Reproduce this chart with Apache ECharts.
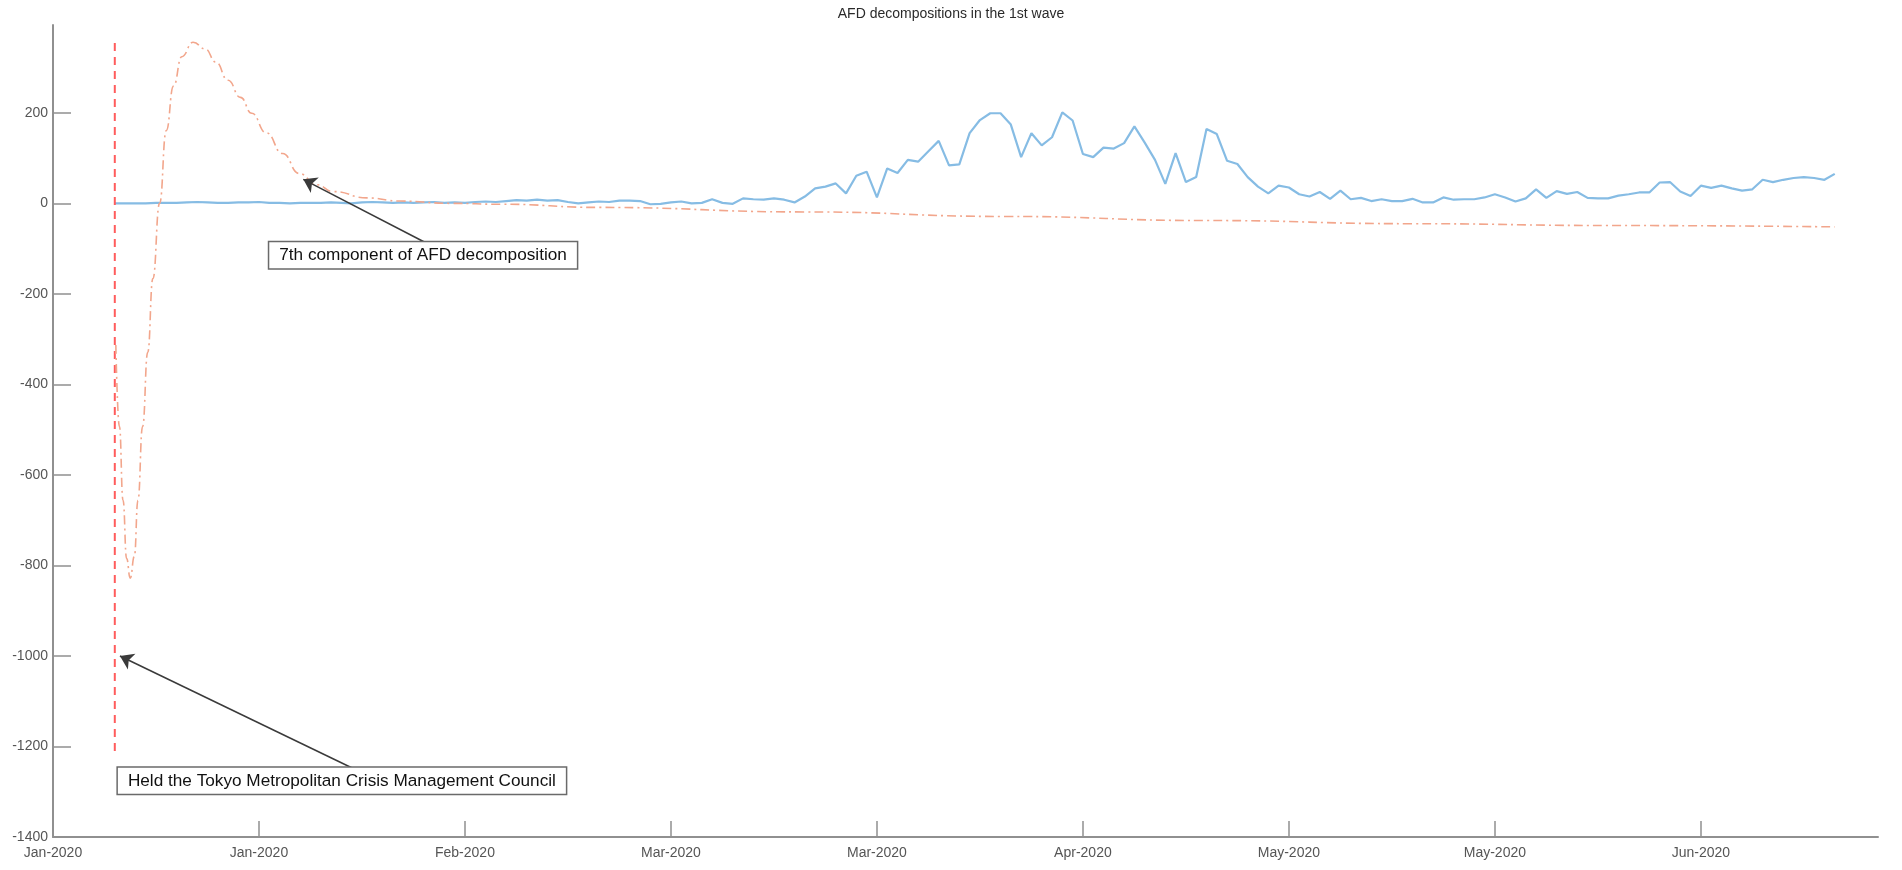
<!DOCTYPE html>
<html><head><meta charset="utf-8">
<script src="https://cdn.jsdelivr.net/npm/echarts@6/dist/echarts.min.js"></script>
<style>html,body{margin:0;padding:0;background:#fff}#c{width:1902px;height:870px}</style>
</head><body><div id="c"></div>
<script>
// ---------- data ----------
const titleText = 'AFD decompositions in the 1st wave';
const xTickDays = [0, 20, 40, 60, 80, 100, 120, 140, 160];
const xTickLabels = ['Jan-2020','Jan-2020','Feb-2020','Mar-2020','Mar-2020','Apr-2020','May-2020','May-2020','Jun-2020'];
const yTicks = [-1400, -1200, -1000, -800, -600, -400, -200, 0, 200];

// daily series (blue), first value on blueStartDay
const blueStartDay = 6;
const blueValues = [
  0, 0, 0, 0, 1, 1, 1, 2, 3, 2,          // d6-15
  1, 1, 2, 2, 3, 1, 1, 0, 1, 1,          // d16-25
  1, 2, 1, 0, 2, 3, 2, 1, 2, 1,          // d26-35
  2, 3, 1, 2, 1, 3, 4, 3, 5, 7,          // d36-45
  6, 8, 6, 7, 3, 0, 2, 4, 3, 6,          // d46-55
  6, 5, -2, -1, 2, 4, 0, 1, 9, 1,        // d56-65
  -1, 11, 9, 8, 11, 8, 2, 15, 33, 37,    // d66-75
  44, 22, 61, 70, 13, 77, 67, 96, 92, 115, // d76-85
  138, 84, 86, 155, 184, 199, 199, 174, 102, 155, // d86-95
  128, 146, 201, 183, 109, 102, 123, 121, 133, 170, // d96-105
  134, 96, 43, 111, 47, 58, 164, 153, 94, 87,  // d106-115
  58, 37, 22, 39, 35, 20, 15, 25, 10, 28,  // d116-125
  9, 12, 5, 9, 5, 5, 10, 2, 2, 13,        // d126-135
  8, 9, 9, 13, 20, 13, 4, 11, 31, 12,     // d136-145
  27, 21, 25, 12, 11, 11, 17, 20, 24, 24, // d146-155
  46, 47, 26, 16, 39, 34, 39, 33, 28, 31, // d156-165
  52, 47, 52, 56, 58, 56, 52, 65         // d166-173
];

// 7th AFD component (orange), read at these days
const orangeDays   = [6.1, 6.45, 6.8, 7.15, 7.5, 7.9, 8.25, 8.7, 9.2, 9.7, 10.35, 11.0, 11.7, 12.5, 13.6, 14.8, 15.8, 17.0, 18.2, 19.3, 20.7, 22.3, 23.9, 25.6, 27.2, 30.5, 33.7, 38.6, 43.5, 53, 73, 92.5, 112, 132, 151, 173];
const orangeValues = [-313, -493, -656, -785, -828, -780, -656, -493, -329, -166, 0, 161, 259, 324, 356, 341, 312, 272, 234, 199, 156, 110, 66, 41, 26, 12, 5, 0, -2, -9, -19, -29, -38, -45, -49, -52];

// event marker (red dashed vertical line)
const councilDay = 6;
const councilRange = [-1210, 357];

// annotation texts
const note1Text = '7th component of AFD decomposition';
const note2Text = 'Held the Tokyo Metropolitan Crisis Management Council';

// ---------- layout / annotation placement (data coordinates) ----------
const note1 = { box: [21.0, -86], tail: [36.1, -86], tip: [24.3, 53] };
const note2 = { box: [6.3, -1247], tail: [29.0, -1247], tip: [6.5, -1000] };

const FONT = 'Liberation Sans, Arial, Helvetica, sans-serif';
const chart = echarts.init(document.getElementById('c'), null, { renderer: 'canvas' });

const blueData = blueValues.map((v, i) => [blueStartDay + i, v]);
const orangeData = orangeDays.map((d, i) => [d, orangeValues[i]]);
const councilData = councilRange.map(v => [councilDay, v]);

chart.setOption({
  animation: false,
  backgroundColor: '#fff',
  title: {
    text: titleText, left: 'center', top: 2,
    textStyle: { fontFamily: FONT, fontSize: 14, fontWeight: 'normal', color: '#2a2a2a' }
  },
  grid: { left: 53, right: 24, top: 25, bottom: 33, containLabel: false },
  xAxis: {
    type: 'value', min: 0, max: 177.2,
    axisLine: { show: true, onZero: false, lineStyle: { color: '#909090', width: 2 } },
    axisTick: { show: true, inside: true, length: 16, customValues: xTickDays, lineStyle: { color: '#909090', width: 1.5 } },
    axisLabel: {
      customValues: xTickDays, margin: 9,
      fontFamily: FONT, fontSize: 14, color: '#555',
      formatter: v => { const i = xTickDays.indexOf(v); return i >= 0 ? xTickLabels[i] : ''; }
    },
    splitLine: { show: false }
  },
  yAxis: {
    type: 'value', min: -1400, max: 394,
    axisLine: { show: true, onZero: false, lineStyle: { color: '#909090', width: 2 } },
    axisTick: { show: true, inside: true, length: 18, customValues: yTicks, lineStyle: { color: '#909090', width: 1.5 } },
    axisLabel: { customValues: yTicks, margin: 5, fontFamily: FONT, fontSize: 14, color: '#555', formatter: v => String(v) },
    splitLine: { show: false }
  },
  series: [
    {
      name: 'council', type: 'line', data: councilData, symbol: 'none', z: 3,
      lineStyle: { color: '#ff5c5c', width: 2, type: [8, 6] },
      markLine: {
        silent: true, symbol: ['none', 'arrow'], symbolSize: 13, z: 10,
        label: { show: false },
        lineStyle: { color: '#3a3a3a', width: 1.5, type: 'solid' },
        data: [
          [{ coord: note1.tail }, { coord: note1.tip }],
          [{ coord: note2.tail }, { coord: note2.tip }]
        ]
      }
    },
    {
      name: 'AFD', type: 'line', data: blueData, symbol: 'none', z: 2,
      lineStyle: { color: '#86bce4', width: 2.2 }
    },
    {
      name: '7th component', type: 'line', data: orangeData, symbol: 'none', z: 4,
      smooth: 0.5, smoothMonotone: 'x',
      lineStyle: { color: '#f2a68c', width: 1.6, type: [9, 4, 2, 4] }
    }
  ]
});

function boxAt(pos, text) {
  const p = chart.convertToPixel({ gridIndex: 0 }, pos);
  return {
    type: 'text', x: p[0], y: p[1], z: 20,
    style: {
      text: text, font: '17.2px ' + FONT, fill: '#111',
      align: 'left', verticalAlign: 'top',
      backgroundColor: '#fff', borderColor: '#6a6a6a', borderWidth: 1.5,
      padding: [5, 10, 4, 10]
    }
  };
}
chart.setOption({ graphic: [boxAt(note1.box, note1Text), boxAt(note2.box, note2Text)] });
</script>
</body></html>
